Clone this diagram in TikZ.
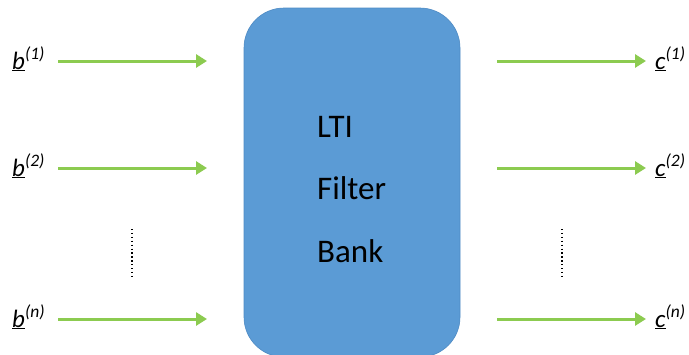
\documentclass[tikz,border=0pt]{standalone}
\usepackage{fontspec}
\setmainfont{Carlito}
\usetikzlibrary{arrows.meta}
\definecolor{boxblue}{HTML}{5B9BD5}
\definecolor{boxedge}{HTML}{4F8BC4}
\definecolor{arrgreen}{HTML}{8CCB50}
\begin{document}
\begin{tikzpicture}[x=1pt,y=-1pt,
  sig/.style={draw=arrgreen, line width=3pt, -{Triangle[length=11pt,width=13pt]}},
  lbl/.style={font=\fontsize{25}{28}\selectfont\itshape, inner sep=0pt, anchor=base west},
  dotline/.style={draw=black, line width=1.3pt, dash pattern=on 1.3pt off 2.6pt},
  filt/.style={fill=boxblue, draw=boxedge, line width=0.6pt, rounded corners=40pt}]
\useasboundingbox (0,0) rectangle (689,354);
\fill[white] (0,0) rectangle (689,354);
% box
\begin{scope}
\clip (0,0) rectangle (689,354);
\path[filt] (244,8) rectangle (460,357);
\end{scope}
\node[font=\fontsize{33}{40}\selectfont, anchor=base west, inner sep=0pt] (t1) at (317,137) {LTI};
\node[font=\fontsize{33}{40}\selectfont, anchor=base west, inner sep=0pt] (t2) at (317,199) {Filter};
\node[font=\fontsize{33}{40}\selectfont, anchor=base west, inner sep=0pt] (t3) at (317,262) {Bank};
% labels
\node[lbl] (b1) at (12,69) {\underline{b}\textsuperscript{(1)}};
\node[lbl] (b2) at (12,176) {\underline{b}\textsuperscript{(2)}};
\node[lbl] (bn) at (12,327) {\underline{b}\textsuperscript{(n)}};
\node[lbl] (c1) at (655,69) {\underline{c}\textsuperscript{(1)}};
\node[lbl] (c2) at (655,176) {\underline{c}\textsuperscript{(2)}};
\node[lbl] (cn) at (655,327) {\underline{c}\textsuperscript{(n)}};
% arrow endpoints
\coordinate (li1) at (58,61);  \coordinate (lo1) at (207,61);
\coordinate (li2) at (58,168); \coordinate (lo2) at (207,168);
\coordinate (lin) at (58,319); \coordinate (lon) at (207,319);
\coordinate (ri1) at (497,61);  \coordinate (ro1) at (646,61);
\coordinate (ri2) at (497,168); \coordinate (ro2) at (646,168);
\coordinate (rin) at (497,319); \coordinate (ron) at (646,319);
\draw[sig] (li1) -- (lo1);
\draw[sig] (li2) -- (lo2);
\draw[sig] (lin) -- (lon);
\draw[sig] (ri1) -- (ro1);
\draw[sig] (ri2) -- (ro2);
\draw[sig] (rin) -- (ron);
% dotted
\coordinate (d1a) at (132,229); \coordinate (d1b) at (132,277);
\coordinate (d2a) at (562,229); \coordinate (d2b) at (562,277);
\draw[dotline] (d1a) -- (d1b);
\draw[dotline] (d2a) -- (d2b);
\end{tikzpicture}
\end{document}
